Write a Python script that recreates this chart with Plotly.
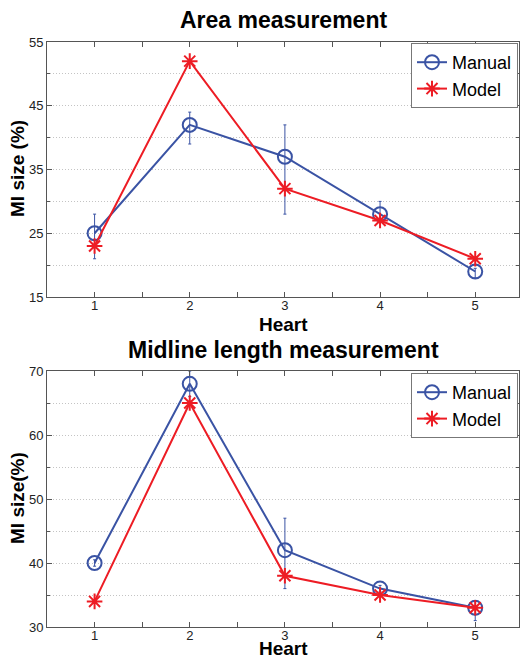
import plotly.graph_objects as go

hearts = [1, 2, 3, 4, 5]

# Area measurement
area_manual = [25, 42, 37, 28, 19]
area_manual_hi = [28, 44, 42, 30, 19.5]
area_manual_lo = [21, 39, 28, 27, 18]
area_model = [23, 52, 32, 27, 21]

# Midline length measurement
mid_manual = [40, 68, 42, 36, 33]
mid_manual_hi = [40.5, 70, 47, 36.5, 34]
mid_manual_lo = [39.5, 66, 36, 35.5, 31]
mid_model = [34, 65, 38, 35, 33]

BLUE = "#3A53A4"
RED = "#ED1C24"
FONT = "Liberation Sans, Arial, sans-serif"
GRID = "#C4C4C4"
GDASH = "1px,2px"

W, H = 521, 660
ML, MR, MT, MB = 47, 2, 42, 33
PW = W - ML - MR
PH = H - MT - MB

def px_x(px):
    return (px - ML) / PW

def px_y(py):
    return (H - MB - py) / PH

fig = go.Figure()

def add_pair(manual, hi, lo, model, xa, ya, leg):
    fig.add_trace(go.Scatter(
        x=hearts, y=manual, name="Manual", mode="lines+markers",
        line=dict(color=BLUE, width=2),
        marker=dict(symbol="circle-open", size=14, color=BLUE, line=dict(width=2)),
        error_y=dict(type="data", symmetric=False,
                     array=[h - m for h, m in zip(hi, manual)],
                     arrayminus=[m - l for m, l in zip(manual, lo)],
                     color=BLUE, thickness=1, width=1.5),
        xaxis=xa, yaxis=ya, legend=leg))
    fig.add_trace(go.Scatter(
        x=hearts, y=model, name="Model", mode="lines+markers",
        line=dict(color=RED, width=2),
        marker=dict(symbol="asterisk-open", size=13, color=RED, line=dict(width=2, color=RED)),
        xaxis=xa, yaxis=ya, legend=leg))

add_pair(area_manual, area_manual_hi, area_manual_lo, area_model, "x", "y", "legend")
add_pair(mid_manual, mid_manual_hi, mid_manual_lo, mid_model, "x2", "y2", "legend2")

xcommon = dict(range=[0.5, 5.46], tick0=1, dtick=1, ticks="inside", ticklen=5,
               tickcolor="#555", showline=True, linecolor="#555", linewidth=1,
               mirror="ticks", showgrid=False, zeroline=False, automargin=False,
               minor=dict(dtick=0.5, tick0=0.5, ticks="inside", ticklen=5, tickcolor="#555"),
               tickfont=dict(family=FONT, size=13, color="#222"),
               ticklabelstandoff=-4)
ycommon = dict(ticks="inside", ticklen=5, tickcolor="#555", showline=True, linecolor="#555",
               linewidth=1, mirror="ticks", zeroline=False, showgrid=True, automargin=False,
               gridcolor=GRID, griddash=GDASH, gridwidth=1,
               tickfont=dict(family=FONT, size=13, color="#222"))

legcommon = dict(xanchor="right", yanchor="top", traceorder="normal",
                 bgcolor="white", bordercolor="#777", borderwidth=1,
                 font=dict(family=FONT, size=18, color="#000"), tracegroupgap=0)

def ann(text, xp, yp, size, angle=0):
    return dict(text=text, x=px_x(xp), y=px_y(yp), xref="paper", yref="paper",
                xanchor="center", yanchor="middle", showarrow=False, textangle=angle,
                font=dict(family=FONT, size=size, color="#000"))

fig.update_layout(
    width=W, height=H,
    margin=dict(l=ML, r=MR, t=MT, b=MB),
    paper_bgcolor="white", plot_bgcolor="white",
    font=dict(family=FONT, color="#000"),
    xaxis=dict(domain=[0, 1], anchor="y", **xcommon),
    xaxis2=dict(domain=[0, 1], anchor="y2", **xcommon),
    yaxis=dict(domain=[px_y(297), 1.0], anchor="x", range=[15, 55], tick0=15, dtick=10,
               minor=dict(dtick=5, tick0=15, showgrid=True, gridcolor=GRID, griddash=GDASH,
                          ticks="inside", ticklen=3, tickcolor="#555"),
               **ycommon),
    yaxis2=dict(domain=[0, px_y(371)], anchor="x2", range=[30, 70], tick0=30, dtick=10,
                minor=dict(dtick=5, tick0=30, showgrid=True, gridcolor=GRID, griddash=GDASH,
                           ticks="inside", ticklen=3, tickcolor="#555"),
                **ycommon),
    legend=dict(x=px_x(518), y=px_y(43), **legcommon),
    legend2=dict(x=px_x(518), y=px_y(373), **legcommon),
    annotations=[
        ann("<b>Area measurement</b>", 283, 20, 23),
        ann("<b>Midline length measurement</b>", 283, 350, 23),
        ann("<b>Heart</b>", 283, 324, 19),
        ann("<b>Heart</b>", 283, 648, 19),
        ann("<b>MI size (%)</b>", 17, 169, 19, -90),
        ann("<b>MI size(%)</b>", 17, 498, 19, -90),
    ],
)

fig.write_html("out.html", config={"displayModeBar": False},
               post_script="document.body.style.margin='0';")
